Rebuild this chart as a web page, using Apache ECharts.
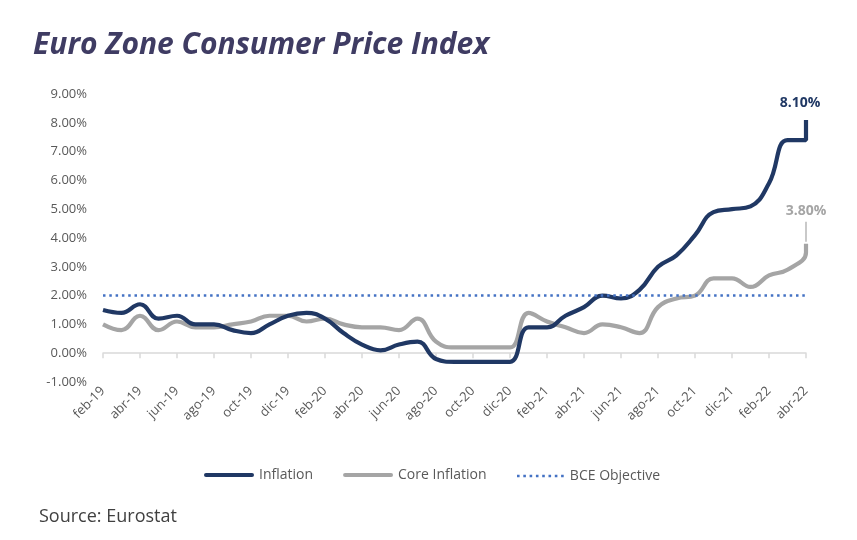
<!DOCTYPE html>
<html>
<head>
<meta charset="utf-8">
<script src="https://cdn.jsdelivr.net/npm/echarts@6/dist/echarts.min.js"></script>
<style>
html,body{margin:0;padding:0;background:#fff;}
#chart{width:857px;height:540px;}
</style>
</head>
<body>
<div id="chart"></div>
<script>
const months = ['feb-19','mar-19','abr-19','may-19','jun-19','jul-19','ago-19','sep-19','oct-19','nov-19','dic-19',
  'ene-20','feb-20','mar-20','abr-20','may-20','jun-20','jul-20','ago-20','sep-20','oct-20','nov-20','dic-20',
  'ene-21','feb-21','mar-21','abr-21','may-21','jun-21','jul-21','ago-21','sep-21','oct-21','nov-21','dic-21',
  'ene-22','feb-22','mar-22','abr-22'];
const inflation = [1.5,1.4,1.7,1.2,1.3,1.0,1.0,0.8,0.7,1.0,1.3,
  1.4,1.2,0.7,0.3,0.1,0.3,0.4,-0.2,-0.3,-0.3,-0.3,-0.3,
  0.9,0.9,1.3,1.6,2.0,1.9,2.2,3.0,3.4,4.1,4.9,5.0,
  5.1,5.9,7.4,7.4];
const core = [1.0,0.8,1.3,0.8,1.1,0.9,0.9,1.0,1.1,1.3,1.3,
  1.1,1.2,1.0,0.9,0.9,0.8,1.2,0.4,0.2,0.2,0.2,0.2,
  1.4,1.1,0.9,0.7,1.0,0.9,0.7,1.6,1.9,2.0,2.6,2.6,
  2.3,2.7,2.9,3.5];
const inflationLatest = 8.1;   // flash estimate, drawn at last category
const coreLatest = 3.8;
const bceTarget = 2.0;
const yTicks = {min: -1, max: 9, step: 1};

const lastIdx = months.length - 1;
const toPairs = (arr, latest) => arr.map((v, i) => [i, v]).concat([[lastIdx, latest]]);

const font = 'Open Sans';
const solidIcon = 'path://M2,0h46a2,2 0 0 1 0,4h-46a2,2 0 0 1 0,-4z';
let dots = '';
for (let i = 0; i < 8; i++) dots += 'M' + (i * 6.3) + ',0h2.6v2.6h-2.6z';
const dottedIcon = 'path://' + dots;

const legendText = {fontFamily: font, fontSize: 14, color: '#595959'};
const chart = echarts.init(document.getElementById('chart'), null, {renderer: 'canvas'});
chart.setOption({
  animation: false,
  backgroundColor: '#ffffff',
  title: {
    text: 'Euro Zone Consumer Price Index',
    left: 28, top: 25,
    textStyle: {fontFamily: font, fontStyle: 'italic', fontWeight: 'bold', fontSize: 30, color: '#3f3c63'}
  },
  graphic: [{
    type: 'text', left: 39, top: 508,
    style: {text: 'Source: Eurostat', font: '18px "Open Sans"', fill: '#404040'}
  }],
  legend: [{
    top: 463, left: 199,
    itemWidth: 50, itemHeight: 4, itemGap: 30,
    textStyle: legendText,
    data: [{name: 'Inflation', icon: solidIcon}, {name: 'Core Inflation', icon: solidIcon}]
  }, {
    top: 464, left: 512,
    itemWidth: 49, itemHeight: 2.6,
    textStyle: legendText,
    data: [{name: 'BCE Objective', icon: dottedIcon}]
  }],
  grid: {left: 103, right: 51, top: 94, height: 288, containLabel: false},
  xAxis: [{
    type: 'category', data: months, boundaryGap: false, position: 'bottom',
    axisLine: {show: false, onZero: false}, axisTick: {show: false},
    axisLabel: {interval: 1, rotate: 45, margin: 7, fontFamily: font, fontSize: 13, color: '#595959'}
  }, {
    type: 'category', data: months, boundaryGap: false, position: 'top',
    axisLine: {show: true, onZero: true, lineStyle: {color: '#d9d9d9', width: 1.5}},
    axisTick: {show: true, inside: true, interval: 1, length: 5, lineStyle: {color: '#d9d9d9', width: 1.5}},
    axisLabel: {show: false}
  }],
  yAxis: {
    type: 'value', min: yTicks.min, max: yTicks.max, interval: yTicks.step,
    axisLine: {show: false}, axisTick: {show: false}, splitLine: {show: false},
    axisLabel: {margin: 16, fontFamily: font, fontSize: 13, color: '#595959',
      formatter: v => v.toFixed(2) + '%'}
  },
  series: [{
    name: 'Inflation', type: 'line', xAxisIndex: 0, smooth: 0.45, symbol: 'none',
    data: toPairs(inflation, inflationLatest), z: 4,
    lineStyle: {color: '#203864', width: 4.2}, itemStyle: {color: '#203864'},
    markPoint: {
      symbol: 'circle', symbolSize: 1, itemStyle: {color: 'rgba(0,0,0,0)'},
      data: [{coord: [lastIdx, inflationLatest], value: inflationLatest,
        label: {show: true, position: 'top', distance: 9, offset: [-6, 0], formatter: p => p.value.toFixed(2) + '%',
          fontFamily: font, fontSize: 14, fontWeight: 'bold', color: '#203864'}}]
    }
  }, {
    name: 'Core Inflation', type: 'line', xAxisIndex: 0, smooth: 0.45, symbol: 'none',
    data: toPairs(core, coreLatest), z: 3,
    lineStyle: {color: '#a5a5a5', width: 4.2}, itemStyle: {color: '#a5a5a5'},
    markPoint: {
      symbol: 'rect', symbolSize: [1.2, 20], symbolOffset: [0, -12], itemStyle: {color: '#a5a5a5'},
      data: [{coord: [lastIdx, coreLatest], value: coreLatest,
        label: {show: true, position: 'top', distance: 4, formatter: p => p.value.toFixed(2) + '%',
          fontFamily: font, fontSize: 14, fontWeight: 'bold', color: '#a5a5a5'}}]
    }
  }, {
    name: 'BCE Objective', type: 'line', xAxisIndex: 0, symbol: 'none', data: [],
    lineStyle: {color: '#4472c4', width: 2.5, type: [2.5, 3.8]}, itemStyle: {color: '#4472c4'},
    markLine: {
      silent: true, symbol: 'none', label: {show: false},
      lineStyle: {color: '#4472c4', width: 2.5, type: [2.5, 3.8]},
      data: [{yAxis: bceTarget}]
    }
  }]
});
</script>
</body>
</html>
